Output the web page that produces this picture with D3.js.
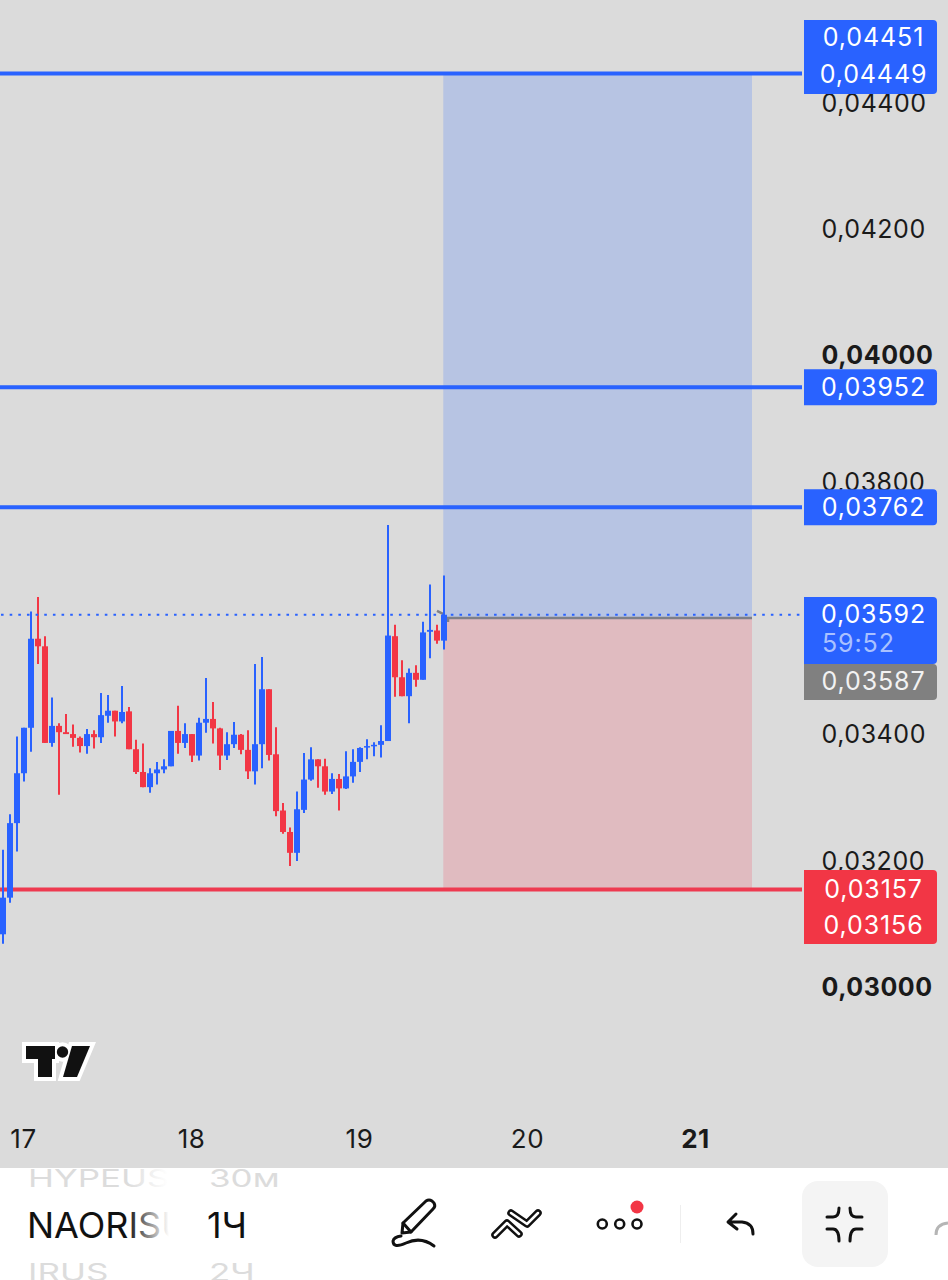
<!DOCTYPE html>
<meta charset="utf-8" />
<style>
  html, body { margin: 0; padding: 0; background: #dbdbdb; }
  svg { display: block; }
  text { font-family: Inter, Roboto, sans-serif; }
  .axis text { font-size: 25px; fill: #1a1a1a; letter-spacing: 0.55px; }
  .axis path, .axis line { display: none; }
  .tag { font-size: 25px; fill: #fff; text-anchor: middle; letter-spacing: 0.9px; }
</style>
<body>
  <script src="https://d3js.org/d3.v7.min.js"></script>
  <script>
    // all prices in units of 0.00001, one candle per hour, first candle 3h before the 17th
    var firstHour = -3;
    var opens = [3086,3144,3262,3341,3413,3554,3542,3389,3416,3406,3403,3397,3384,3403,3398,3432,3440,3423,3439,3379,3343,3319,3341,3347,3352,3408,3389,3403,3369,3421,3427,3412,3369,3387,3402,3378,3344,3387,3474,3371,3282,3248,3215,3283,3331,3363,3352,3312,3332,3317,3336,3359,3382,3384,3386,3392,3558,3493,3463,3500,3489,3565,3567,3551];
    var highs = [3220,3276,3399,3413,3597,3620,3558,3461,3420,3435,3418,3399,3411,3409,3468,3465,3440,3479,3446,3394,3388,3349,3359,3363,3408,3448,3420,3403,3429,3492,3454,3413,3406,3422,3403,3409,3514,3525,3474,3414,3294,3255,3312,3373,3382,3363,3364,3341,3340,3376,3379,3382,3395,3390,3417,3734,3576,3520,3507,3512,3581,3640,3576,3654];
    var lows = [3071,3136,3217,3328,3375,3514,3389,3383,3307,3403,3383,3374,3372,3380,3389,3421,3399,3420,3379,3340,3319,3310,3323,3341,3352,3372,3381,3359,3361,3405,3388,3346,3362,3381,3371,3332,3323,3349,3361,3273,3245,3194,3202,3278,3329,3318,3307,3308,3282,3316,3326,3343,3363,3368,3366,3392,3462,3463,3420,3478,3489,3523,3546,3537];
    var closes = [3144,3262,3341,3413,3554,3542,3389,3416,3406,3403,3397,3384,3403,3398,3433,3440,3423,3438,3379,3343,3319,3341,3347,3352,3408,3389,3403,3369,3421,3427,3412,3369,3387,3402,3378,3344,3387,3474,3370,3281,3248,3215,3284,3331,3363,3352,3312,3332,3317,3336,3359,3381,3384,3386,3392,3559,3493,3463,3500,3489,3564,3568,3551,3592];

    var priceTicks = [3000, 3200, 3400, 3800, 4000, 4200, 4400];
    var boldPrices = [3000, 4000];
    var dayHours = [0, 24, 48, 72, 96];
    var dayLabels = ["17", "18", "19", "20", "21"];

    var targetLevels = [4449, 3952, 3762];
    var stopLevel = 3157;
    var entryPrice = 3587;
    var lastPrice = 3592;
    var zoneHours = [59.9, 104];

    var blue = "#2962ff", red = "#f23645";
    var width = 948, height = 1280;

    var svg = d3.select("body").append("svg").attr("width", width).attr("height", height);

    var x = d3.scaleLinear().domain([0, 96]).range([24, 696]);
    var y = d3.scaleLinear().domain([3000, 4449]).range([988.6, 73.5]);
    var fmt = function (p) { return d3.format(".5f")(p / 1e5).replace(".", ","); };

    svg.append("rect").attr("width", width).attr("height", height).attr("fill", "#dbdbdb");

    // axes go first, the price tags cover some of the ticks
    svg.append("g")
      .attr("class", "axis")
      .attr("transform", "translate(809,0)")
      .call(d3.axisRight(y).tickValues(priceTicks).tickFormat(fmt).tickSize(0).tickPadding(12.5))
      .selectAll("text")
      .attr("dy", "0.27em")
      .style("font-weight", function (d) { return boldPrices.indexOf(d) >= 0 ? 700 : 400; });

    svg.append("g")
      .attr("class", "axis")
      .attr("transform", "translate(-1,1139)")
      .call(d3.axisBottom(x).tickValues(dayHours).tickFormat(function (d, i) { return dayLabels[i]; }).tickSize(0).tickPadding(0))
      .selectAll("text")
      .attr("y", 0)
      .attr("dy", "0.36em")
      .style("font-size", "26px")
      .style("font-weight", function (d) { return d === 96 ? 700 : 400; });

    // long/short zones
    svg.append("rect")
      .attr("x", x(zoneHours[0])).attr("width", x(zoneHours[1]) - x(zoneHours[0]))
      .attr("y", y(targetLevels[0])).attr("height", y(entryPrice) - y(targetLevels[0]))
      .attr("fill", "#b7c4e3");
    svg.append("rect")
      .attr("x", x(zoneHours[0])).attr("width", x(zoneHours[1]) - x(zoneHours[0]))
      .attr("y", y(entryPrice)).attr("height", y(stopLevel) - y(entryPrice))
      .attr("fill", "#e0bbc0");

    // horizontal levels
    svg.selectAll(".target").data(targetLevels).enter().append("line")
      .attr("class", "target")
      .attr("x1", 0).attr("x2", 802)
      .attr("y1", function (d) { return y(d); }).attr("y2", function (d) { return y(d); })
      .attr("stroke", blue).attr("stroke-width", 4);
    svg.append("line")
      .attr("x1", 0).attr("x2", 802)
      .attr("y1", y(stopLevel)).attr("y2", y(stopLevel))
      .attr("stroke", "#ee3a50").attr("stroke-width", 4);

    // entry line
    svg.append("path")
      .attr("d", "M437 " + (y(entryPrice) - 7) + "L443 " + (y(entryPrice) - 4) + "M448 " + (y(entryPrice) + 4) + "L448 " + y(entryPrice) + "L752 " + y(entryPrice))
      .attr("fill", "none").attr("stroke", "#7f7f86").attr("stroke-width", 2.5);

    // candles
    var candles = d3.range(opens.length);
    var candleColor = function (i) { return closes[i] >= opens[i] ? blue : red; };
    var candleX = function (i) { return x(firstHour + i); };

    svg.selectAll(".wick").data(candles).enter().append("line")
      .attr("class", "wick")
      .attr("x1", candleX).attr("x2", candleX)
      .attr("y1", function (i) { return y(highs[i]); })
      .attr("y2", function (i) { return y(lows[i]); })
      .attr("stroke", candleColor).attr("stroke-width", 2);

    svg.selectAll(".body").data(candles).enter().append("rect")
      .attr("class", "body")
      .attr("x", function (i) { return candleX(i) - 3; })
      .attr("width", 6)
      .attr("y", function (i) { return y(Math.max(opens[i], closes[i])); })
      .attr("height", function (i) { return Math.max(1.5, Math.abs(y(opens[i]) - y(closes[i]))); })
      .attr("fill", candleColor);

    // last price dotted line
    svg.append("line")
      .attr("x1", 1).attr("x2", 800)
      .attr("y1", y(lastPrice)).attr("y2", y(lastPrice))
      .attr("stroke", blue).attr("stroke-width", 2)
      .attr("stroke-dasharray", "2.6 6.05");

    // price tags on the right
    function tag(top, bottom, fill) {
      svg.append("path")
        .attr("d", "M804 " + top + "H933a4 4 0 0 1 4 4V" + (bottom - 4) + "a4 4 0 0 1 -4 4H804Z")
        .attr("fill", fill);
    }
    function tagText(cy, str, color) {
      svg.append("text").attr("class", "tag")
        .attr("x", 873.5).attr("y", cy).attr("dy", "0.36em")
        .style("fill", color || "#fff").text(str);
    }
    tag(20, 94, blue);
    tagText(37, fmt(4451));
    tagText(y(4449), fmt(4449));
    tag(y(3952) - 18, y(3952) + 18, blue);
    tagText(y(3952), fmt(3952));
    tag(y(3762) - 18, y(3762) + 18, blue);
    tagText(y(3762), fmt(3762));
    tag(597, 664, blue);
    tagText(y(lastPrice) - 1, fmt(lastPrice));
    svg.append("text").attr("class", "tag").attr("x", 822).attr("y", 643).attr("dy", "0.36em")
      .style("text-anchor", "start").style("fill", "#a9c1ff").text("59:52");
    tag(664, 700, "#808080");
    tagText(681, fmt(entryPrice), "#f2f2f2");
    tag(870, 944, red);
    tagText(y(stopLevel), fmt(stopLevel));
    tagText(925, fmt(3156));

    // tradingview logo
    var logo = svg.append("g");
    var logoShapes = function (g) {
      g.append("path").attr("d", "M26 1046H55V1059H52V1077H38V1059H26Z");
      g.append("path").attr("d", "M72 1046H90L77 1077H63Z");
      g.append("circle").attr("cx", 62.5).attr("cy", 1052).attr("r", 5.7);
    };
    logo.append("g").attr("fill", "#fff").attr("stroke", "#fff").attr("stroke-width", 8).attr("stroke-linejoin", "miter").call(logoShapes);
    logo.append("g").attr("fill", "#111").call(logoShapes);

    // bottom toolbar
    var defs = svg.append("defs");
    defs.append("clipPath").attr("id", "barClip").append("rect").attr("y", 1168).attr("width", width).attr("height", 112);
    // gradient x is relative to the translated text origin
    var fade = defs.append("linearGradient").attr("id", "fade")
      .attr("gradientUnits", "userSpaceOnUse").attr("x1", 100).attr("x2", 142).attr("y1", 0).attr("y2", 0);
    fade.append("stop").attr("offset", 0).attr("stop-color", "#111");
    fade.append("stop").attr("offset", 1).attr("stop-color", "#111").attr("stop-opacity", 0);
    var fadeLight = defs.append("linearGradient").attr("id", "fadeLight")
      .attr("gradientUnits", "userSpaceOnUse").attr("x1", 100).attr("x2", 140).attr("y1", 0).attr("y2", 0);
    fadeLight.append("stop").attr("offset", 0).attr("stop-color", "#dcdcdc");
    fadeLight.append("stop").attr("offset", 1).attr("stop-color", "#dcdcdc").attr("stop-opacity", 0);

    svg.append("rect").attr("y", 1168).attr("width", width).attr("height", 112).attr("fill", "#fff");

    var bar = svg.append("g").attr("clip-path", "url(#barClip)");
    // the ticker picker squashes the rows above and below the selected one
    function barText(tx, ty, size, fill, str, squash) {
      bar.append("text")
        .attr("transform", "translate(" + tx + "," + ty + ") scale(1," + (squash || 1) + ")")
        .style("font-size", size + "px").style("fill", fill).text(str);
    }
    barText(28, 1187, 35, "url(#fadeLight)", "HYPEUSDT", 0.7);
    barText(209, 1187, 35, "#dcdcdc", "30м", 0.7);
    barText(27, 1238, 36, "url(#fade)", "NAORISUSDT");
    barText(207, 1238, 36, "#111", "1Ч");
    barText(28, 1281, 35, "#dcdcdc", "IRUS", 0.7);
    barText(209, 1281, 35, "#dcdcdc", "2Ч", 0.7);

    // collapse button background goes under the icons
    svg.append("rect").attr("x", 802).attr("y", 1181).attr("width", 86).attr("height", 86).attr("rx", 16).attr("fill", "#f4f4f4");

    var icons = svg.append("g").attr("fill", "none").attr("stroke", "#111").attr("stroke-width", 3)
      .attr("stroke-linecap", "round").attr("stroke-linejoin", "round");

    // pencil
    icons.append("path").attr("d", "M402 1233L403 1223L426 1201Q429 1199 432 1201L434 1203Q436 1206 433 1209L411 1232Z");
    icons.append("path").attr("d", "M403 1223L411 1232");
    icons.append("path").attr("d", "M434 1246Q421 1236 406 1243Q393 1249 393 1241Q394 1237 401 1236");

    // multi chart zigzag
    var zigzag = "M495 1235L507 1223L519 1234M511 1213L527 1224L538 1213";
    icons.append("path").attr("d", zigzag).attr("stroke-width", 7.5);
    icons.append("path").attr("d", zigzag).attr("stroke", "#fff").attr("stroke-width", 2.5);

    // more + red dot
    [602.3, 619.7, 637].forEach(function (cx) {
      icons.append("circle").attr("cx", cx).attr("cy", 1224).attr("r", 4.5).attr("stroke-width", 2.6);
    });
    svg.append("circle").attr("cx", 637).attr("cy", 1207).attr("r", 6.5).attr("fill", red);

    svg.append("line").attr("x1", 680.5).attr("x2", 680.5).attr("y1", 1205).attr("y2", 1243).attr("stroke", "#eee").attr("stroke-width", 1);

    // undo
    icons.append("path").attr("d", "M736 1214L728 1222L737 1229M729 1222H742Q753 1223 753 1234");

    // collapse icon
    icons.append("path").attr("d", "M827 1217H833Q839 1217 839 1208M850 1208Q850 1217 856 1217H862M827 1229H833Q839 1229 839 1241M862 1229H856Q850 1229 850 1241");

    // next button, cut off by the screen edge
    svg.append("path").attr("d", "M936 1235Q936 1224 948 1223").attr("fill", "none").attr("stroke", "#b5b5b5").attr("stroke-width", 3);
  </script>
</body>
